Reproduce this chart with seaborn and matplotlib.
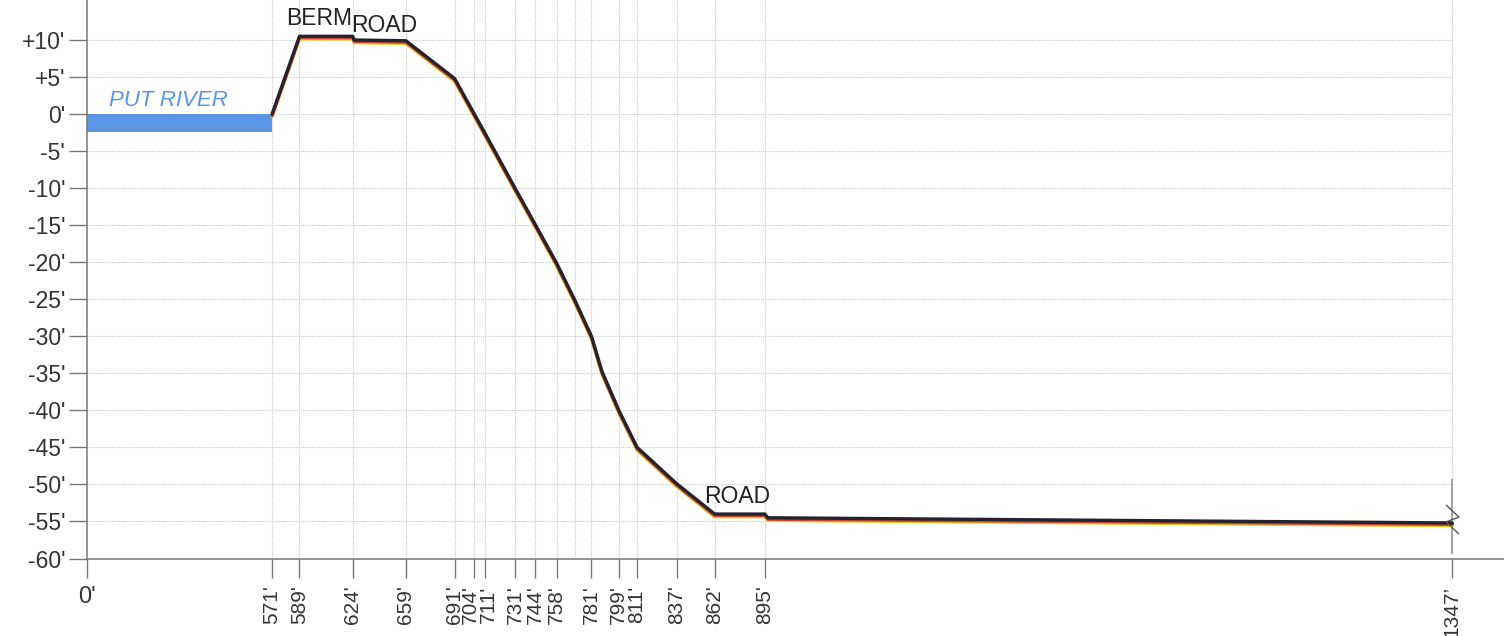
import numpy as np
import pandas as pd
import matplotlib
matplotlib.use("Agg")
import matplotlib.pyplot as plt
import matplotlib.transforms as mtransforms
from matplotlib.path import Path
import seaborn as sns

# ---------------- data ----------------
distance_ft = [571, 589, 624, 625, 659, 691, 704, 711, 731, 744, 758, 770, 781, 788,
               799, 811, 837, 862, 895, 897, 1347]
elevation_ft = [0.0, 10.5, 10.5, 10.0, 9.9, 4.8, 0.0, -2.6, -10.1, -14.9, -20.1, -25.1,
                -30.0, -34.8, -40.0, -45.0, -49.9, -54.0, -54.0, -54.5, -55.2]

river_x = [0, 571]
river_top = 0.0
river_bottom = -2.4

x_tick_values = [0, 571, 589, 624, 659, 691, 704, 711, 731, 744, 758, 781, 799, 811,
                 837, 862, 895, 1347]
x_tick_labels = ["0'", "571'", "589'", "624'", "659'", "691'", "704'", "711'", "731'",
                 "744'", "758'", "781'", "799'", "811'", "837'", "862'", "895'", "1347\u2019"]
extra_grid_x = [770]

y_tick_values = [10, 5, 0, -5, -10, -15, -20, -25, -30, -35, -40, -45, -50, -55, -60]
y_tick_labels = ["+10'", "+5'", "0'", "-5'", "-10'", "-15'", "-20'", "-25'", "-30'",
                 "-35'", "-40'", "-45'", "-50'", "-55'", "-60'"]

labels_text = ["BERM", "ROAD", "ROAD"]
labels_x = [602, 645, 877]
labels_y = [12.85, 11.9, -51.6]

# ---------------- style ----------------
sns.set_style("white")
plt.rcParams["font.family"] = ["Liberation Sans", "DejaVu Sans"]

BREAK = 571.0
K = 0.2128  # compression of the 0'..571' stretch


def fwd(x):
    x = np.asarray(x, dtype=float)
    return np.where(x < BREAK, x * K, BREAK * K + (x - BREAK))


def inv(u):
    u = np.asarray(u, dtype=float)
    return np.where(u < BREAK * K, u / K, u - BREAK * K + BREAK)


fig = plt.figure(figsize=(15.04, 6.36), dpi=100)
ax = fig.add_axes([87.3 / 1504, (636 - 558.5) / 636, 1 - 87.3 / 1504, 558.5 / 636])
ax.set_xscale("function", functions=(fwd, inv))
ax.set_xlim(0, 1381)
ax.set_ylim(-60, 15.4)

grid_kw = dict(color="#c8c8c8", lw=0.8, linestyle=(0, (1, 1)), zorder=0)
# horizontal grid lines (stop at the section end)
ax.hlines([v for v in y_tick_values if v > -60], 0, x_tick_values[-1], **grid_kw)
# vertical grid lines
ax.vlines(x_tick_values[1:-1] + extra_grid_x, -60, 15.4, **grid_kw)
ax.vlines([x_tick_values[-1]], -49.3, 15.4, **grid_kw)
ax.vlines([x_tick_values[-1]], -59.4, -49.3, color="#8a8a8a", lw=1.1, zorder=1)

# river
ax.fill_between(river_x, river_bottom, river_top, color="#5a95e6", lw=0, zorder=2)
ax.text(251, 1.8, "PUT RIVER", color="#5a95e6", fontsize=16, fontstyle="italic",
        ha="center", va="center")

# profile line (three-tone stroke)
df = pd.DataFrame({"distance": distance_ft, "elevation": elevation_ft})
off_y = mtransforms.offset_copy(ax.transData, fig=fig, x=0, y=-2.6, units="dots")
off_r = mtransforms.offset_copy(ax.transData, fig=fig, x=0, y=-1.4, units="dots")
sns.lineplot(data=df, x="distance", y="elevation", sort=False, ax=ax, color="#f2c318",
             lw=2.4, transform=off_y, zorder=3)
sns.lineplot(data=df, x="distance", y="elevation", sort=False, ax=ax, color="#c9452e",
             lw=2.4, transform=off_r, zorder=4)
sns.lineplot(data=df, x="distance", y="elevation", sort=False, ax=ax, color="#23232f",
             lw=2.4, zorder=5)

# break symbol at the section end
zig = Path([(-0.22, 0.5), (0.22, 0.08), (-0.22, -0.08), (0.22, -0.5)],
           [Path.MOVETO, Path.LINETO, Path.LINETO, Path.LINETO])
ax.plot([x_tick_values[-1]], [-54.6], marker=zig, markersize=21, mew=1.0,
        mec="#555555", mfc="none", ls="none", zorder=6)

# text labels
for t, xv, yv in zip(labels_text, labels_x, labels_y):
    ax.text(xv, yv, t, color="#222222", fontsize=16.5, ha="center", va="center")

# axes / ticks
ax.set_xticks(x_tick_values)
ax.set_xticklabels(x_tick_labels, rotation=90)
ax.set_yticks(y_tick_values)
ax.set_yticklabels(y_tick_labels)
ax.tick_params(axis="both", which="major", direction="out", color="#777777", width=1.0,
               labelcolor="#333333", bottom=True, left=True)
ax.tick_params(axis="y", length=13, pad=3, labelsize=16.5)
ax.tick_params(axis="x", length=13.5, pad=6, labelsize=15)

nudge = {"704'": -3.5, "711'": 3.5}
for lab in ax.get_xticklabels():
    txt = lab.get_text()
    if txt == "0'":
        lab.set_rotation(0)
        lab.set_fontsize(17)
    if txt in nudge:
        lab.set_transform(lab.get_transform() +
                          mtransforms.ScaledTranslation(nudge[txt] / 100, 0, fig.dpi_scale_trans))

ax.set_xlabel("")
ax.set_ylabel("")
for s in ["top", "right"]:
    ax.spines[s].set_visible(False)
for s in ["left", "bottom"]:
    ax.spines[s].set_color("#777777")
    ax.spines[s].set_linewidth(1.1)

fig.savefig("out.png", dpi=100)
